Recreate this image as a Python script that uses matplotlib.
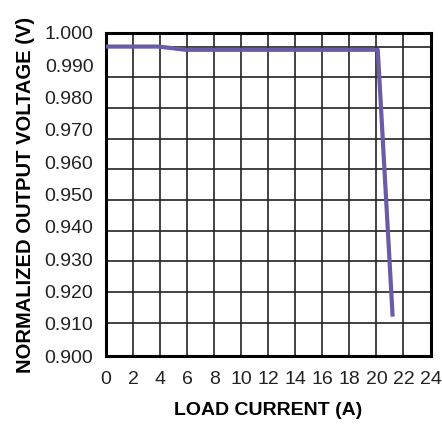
import numpy as np
import matplotlib.pyplot as plt
from matplotlib.ticker import FormatStrFormatter

plt.rcParams['font.family'] = ['Liberation Sans', 'DejaVu Sans']

# load current (A) vs normalized output voltage (V)
current = [0, 3.9, 5.9, 20.1, 21.2]
vout = [0.9958, 0.9958, 0.9948, 0.9948, 0.9122]

xticks = np.arange(0, 25, 2)
yticks = np.arange(0.900, 1.0001, 0.010)
# the grid rows in the original don't line up with the labels
ygrid = np.linspace(0.9103, 0.9958, 10)

fig = plt.figure(figsize=(4.42, 4.28), dpi=100)
ax = fig.add_axes([0.2398, 0.1682, 0.974 - 0.2398, 0.9229 - 0.1682])

ax.plot(current, vout, color='#6b5aa6', lw=3.0, solid_capstyle='butt', zorder=3)

ax.set_xlim(0, 24)
ax.set_ylim(0.900, 1.000)
ax.set_xticks(xticks)
ax.set_yticks(yticks)
ax.set_yticks(ygrid, minor=True)
ax.yaxis.set_major_formatter(FormatStrFormatter('%.3f'))

ax.grid(axis='x', which='major', color='#222222', lw=1.2)
ax.grid(axis='y', which='minor', color='#222222', lw=1.2)
ax.tick_params(which='both', length=0, labelsize=14, colors='#222222')
ax.tick_params(axis='x', pad=11)
ax.tick_params(axis='y', pad=9)

for s in ax.spines.values():
  s.set_linewidth(2.2)
  s.set_color('black')

ax.set_xlabel('LOAD CURRENT (A)', fontsize=14, fontweight='bold', labelpad=10)
ax.set_ylabel('NORMALIZED OUTPUT VOLTAGE (V)', fontsize=14.5, fontweight='bold', labelpad=7)

fig.savefig('out.png', dpi=100)
